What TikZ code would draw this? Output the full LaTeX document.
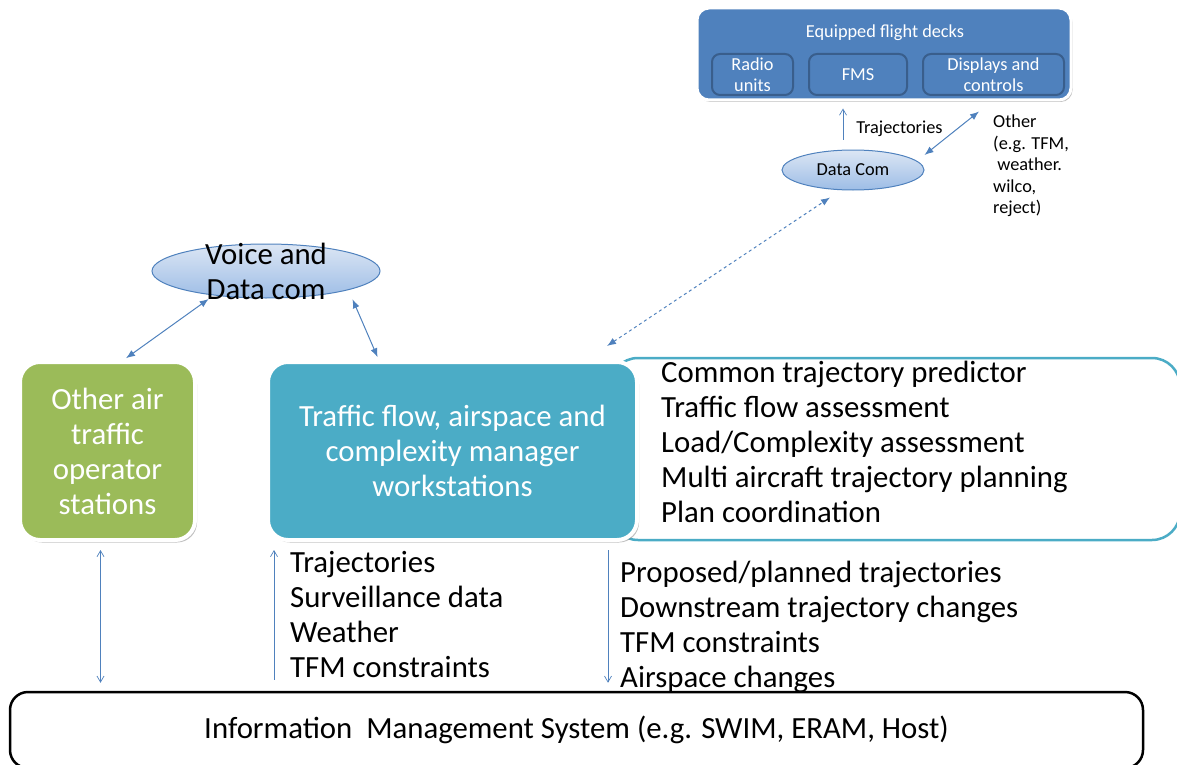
\documentclass[tikz,border=0pt]{standalone}
\usepackage{fontspec}
\setmainfont{Carlito}
\usetikzlibrary{shapes,arrows.meta,shadows,positioning}
\definecolor{ofblue}{HTML}{4F81BD}
\definecolor{ofdark}{HTML}{395E8C}
\definecolor{ofgreen}{HTML}{9BBB59}
\definecolor{ofteal}{HTML}{4BACC6}
\definecolor{oflight}{HTML}{DCE6F4}
\definecolor{ofmid}{HTML}{9DBDE6}
\newcommand\listsize{\fontsize{30.8}{35}\selectfont}
\newcommand\smallsize{\fontsize{18.3}{21.5}\selectfont}
\tikzstyle{station} = [rectangle, rounded corners=20pt, draw=white, line width=4pt,
    text=white, align=center, font=\listsize,
    drop shadow={opacity=0.5, shadow xshift=2pt, shadow yshift=-2.5pt}]
\tikzstyle{com_ellipse} = [ellipse, draw=ofblue, line width=1pt, top color=oflight,
    bottom color=ofmid, inner sep=2pt]
\tikzstyle{deck_box} = [rectangle, rounded corners=12pt, draw=white, line width=3pt,
    fill=ofblue, drop shadow={opacity=0.5, shadow xshift=1.5pt, shadow yshift=-2pt}]
\tikzstyle{deck_unit} = [rectangle, rounded corners=8pt, draw=ofdark, line width=2pt,
    fill=ofblue, text=white, align=center, font=\smallsize, inner sep=0pt,
    minimum height=41pt]
\tikzstyle{list_text} = [align=left, inner sep=0pt, anchor=north west, font=\listsize]
\tikzstyle{small_text} = [align=left, inner sep=0pt, font=\smallsize]
\tikzset{
  link/.style ={draw=ofblue, line width=1pt, >={Latex[length=9pt,width=7pt]}, <->},
  thin_link/.style ={draw=ofblue, line width=0.7pt, >={Straight Barb[length=6pt,width=7pt]}}
}

\begin{document}
\begin{tikzpicture}[x=1pt, y=-1pt]
   \useasboundingbox (0,0) rectangle (1177,765);
   % frame of the workstation tools, partly behind the workstation box
   \node [rectangle, rounded corners=28pt, draw=ofteal, line width=2.5pt, fill=white,
     minimum width=570pt, minimum height=182pt] (tools_box) at (895,449) {};
   \node [list_text] (tools_list) at (661,361) {Common trajectory predictor\\Traffic flow assessment\\Load/Complexity assessment\\Multi aircraft trajectory planning\\Plan coordination};
   \node [station, fill=ofgreen, minimum width=175pt, minimum height=178pt] (other_atc) at (107.5,451) {Other air\\traffic\\operator\\stations};
   \node [station, fill=ofteal, minimum width=369pt, minimum height=178pt] (tfm_ws) at (452.5,451) {Traffic flow, airspace and\\complexity manager\\workstations};
   \node [com_ellipse, minimum width=228pt, minimum height=54pt] (voice_com) at (266,271) {};
   \node [align=center, inner sep=0pt, font=\listsize] (voice_com_text) at (voice_com.center) {Voice and\\Data com};
   \node [rectangle, rounded corners=18pt, draw=black, line width=2.5pt,
     minimum width=1133pt, minimum height=76pt, font=\listsize] (ims) at (576.5,730) {Information\ \ Management System (e.g. SWIM, ERAM, Host)};
   % flight deck side
   \node [deck_box, minimum width=374pt, minimum height=92pt] (flight_decks) at (884,54) {};
   \node [small_text, text=white] (deck_title) at (885,33) {Equipped flight decks};
   \node [deck_unit, minimum width=81pt] (radio_units) at (752.5,74.5) {Radio\\units};
   \node [deck_unit, minimum width=98pt, right=14pt of radio_units] (fms) {FMS};
   \node [deck_unit, minimum width=141pt, right=14pt of fms] (displays) {Displays and\\controls};
   \node [com_ellipse, minimum width=142pt, minimum height=40pt, font=\smallsize] (data_com) at (853,170) {Data Com};
   \node [small_text, anchor=north west] (other_msgs) at (993,115) {Other\\(e.g. TFM,\\\ weather.\\wilco,\\reject)};
   % data lists between workstations and IMS
   \node [list_text] (in_list) at (290,551) {Trajectories\\Surveillance data\\Weather\\TFM constraints};
   \node [list_text] (out_list) at (620,561) {Proposed/planned trajectories\\Downstream trajectory changes\\TFM constraints\\Airspace changes};
   % connectors
   \path [link, shorten <=6pt, shorten >=3pt] (voice_com.205) -- (other_atc.80);
   \path [link, shorten <=10pt, shorten >=3pt] (voice_com.-13) -- (tfm_ws.129);
   \path [link, dashed] ([xshift=-32pt,yshift=14pt]tfm_ws.north east) -- ([xshift=-23pt,yshift=-7pt]data_com.south);
   \path [thin_link, ->] ([xshift=-10pt,yshift=10pt]data_com.north) -- node [small_text, right=13pt, pos=0.35] {Trajectories} ([xshift=-10pt,yshift=-7pt]data_com.north |- flight_decks.south);
   \path [link] ([yshift=15pt]data_com.east) -- ([xshift=95pt,yshift=-10pt]flight_decks.south);
   \path [thin_link, <->] ([xshift=-7pt,yshift=-8pt]other_atc.south) -- ([xshift=-7pt,yshift=8pt]other_atc.south |- ims.north);
   \path [thin_link, ->] ([xshift=8pt,yshift=11pt]tfm_ws.south west |- ims.north) -- ([xshift=8pt,yshift=-8pt]tfm_ws.south west);
   \path [thin_link, ->] ([xshift=-31pt,yshift=-8pt]tfm_ws.south east) -- ([xshift=-31pt,yshift=8pt]tfm_ws.south east |- ims.north);
\end{tikzpicture}
\end{document}
